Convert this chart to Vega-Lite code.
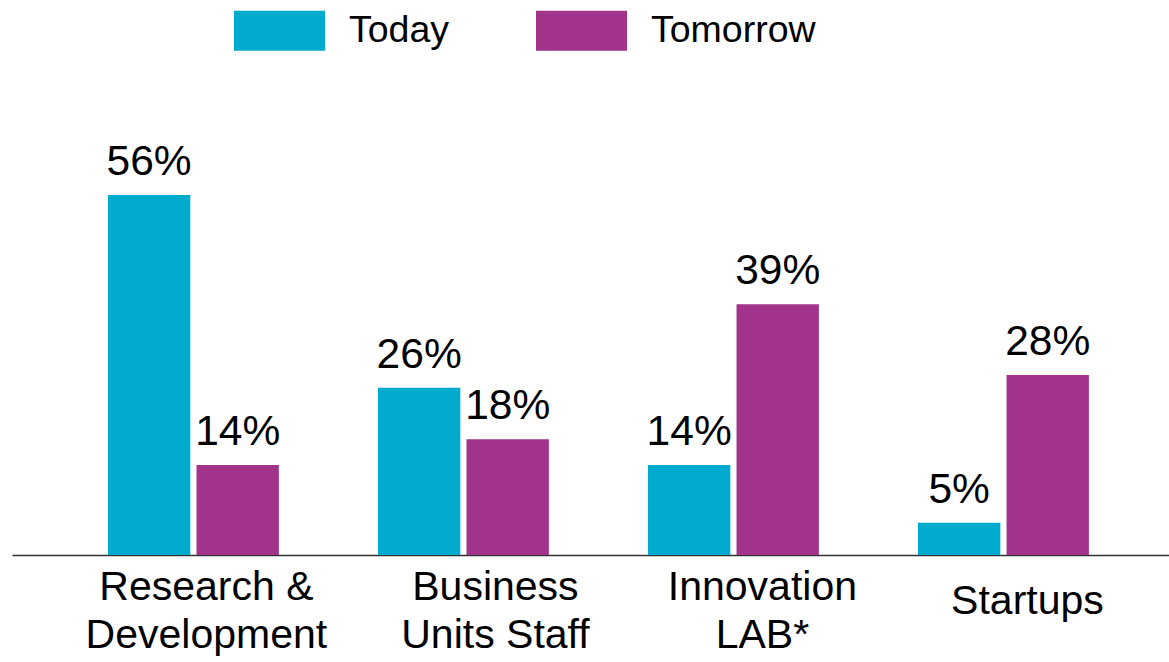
{
  "$schema": "https://vega.github.io/schema/vega-lite/v6.json",
  "autosize": {"type": "none"},
  "width": 1157,
  "height": 450,
  "padding": {"left": 12, "top": 105, "right": 0, "bottom": 107},
  "background": "white",
  "config": {
    "view": {"stroke": null},
    "font": "Liberation Sans"
  },
  "data": {
    "values": [
      {"category": "Research &|Development", "period": "Today", "value": 0.56},
      {"category": "Research &|Development", "period": "Tomorrow", "value": 0.14},
      {"category": "Business|Units Staff", "period": "Today", "value": 0.26},
      {"category": "Business|Units Staff", "period": "Tomorrow", "value": 0.18},
      {"category": "Innovation|LAB*", "period": "Today", "value": 0.14},
      {"category": "Innovation|LAB*", "period": "Tomorrow", "value": 0.39},
      {"category": "Startups", "period": "Today", "value": 0.05},
      {"category": "Startups", "period": "Tomorrow", "value": 0.28}
    ]
  },
  "encoding": {
    "x": {
      "field": "category",
      "type": "nominal",
      "sort": null,
      "scale": {"paddingInner": 0.367, "paddingOuter": 0.326, "align": 0.545},
      "axis": {
        "title": null,
        "labelAngle": 0,
        "ticks": false,
        "domainColor": "#333333",
        "domainWidth": 1.5,
        "labelFontSize": 41,
        "labelColor": "#000000",
        "labelLimit": 0,
        "labelLineHeight": 48,
        "labelBaseline": "middle",
        "labelPadding": {"condition": {"test": "datum.value === 'Startups'", "value": 46}, "value": 32},
        "labelOffset": {
          "condition": [
            {"test": "datum.value === 'Research &|Development'", "value": 13},
            {"test": "datum.value === 'Business|Units Staff'", "value": 32},
            {"test": "datum.value === 'Innovation|LAB*'", "value": 29}
          ],
          "value": 24
        },
        "labelExpr": "split(datum.value, '|')",
        "grid": false
      }
    },
    "xOffset": {
      "field": "period",
      "type": "nominal",
      "scale": {"paddingInner": 0.07, "paddingOuter": 0}
    },
    "y": {
      "field": "value",
      "type": "quantitative",
      "scale": {"domain": [0, 0.7]},
      "axis": null
    }
  },
  "layer": [
    {
      "mark": {"type": "bar"},
      "encoding": {
        "color": {
          "field": "period",
          "type": "nominal",
          "scale": {"domain": ["Today", "Tomorrow"], "range": ["#00ABCD", "#A2338B"]},
          "legend": {
            "title": null,
            "orient": "none",
            "direction": "horizontal",
            "legendX": 222,
            "legendY": -120,
            "padding": 0,
            "symbolType": "M-1,-0.44H1V0.44H-1Z",
            "symbolSize": 8281,
            "symbolStrokeWidth": 0,
            "labelFontSize": 37.5,
            "labelColor": "#000000",
            "labelLimit": 400,
            "labelOffset": 24,
            "columnPadding": 86,
            "labelBaseline": "middle"
          }
        }
      }
    },
    {
      "mark": {"type": "text", "fontSize": 42.5, "baseline": "alphabetic", "dy": -20, "color": "#000000"},
      "encoding": {
        "text": {"field": "value", "type": "quantitative", "format": ".0%"}
      }
    }
  ]
}
